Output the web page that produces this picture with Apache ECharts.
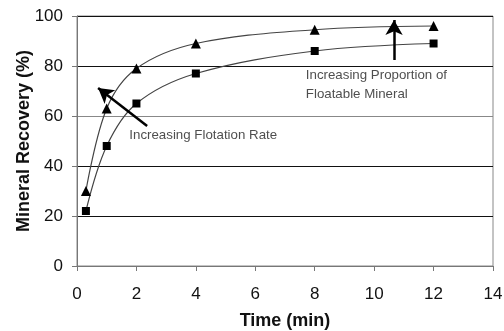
<!DOCTYPE html>
<html>
<head>
<meta charset="utf-8">
<script src="https://cdn.jsdelivr.net/npm/echarts@6/dist/echarts.min.js"></script>
<style>
  html, body { margin: 0; padding: 0; background: #fff; }
  #chart { width: 504px; height: 331px; }
</style>
</head>
<body>
<div id="chart"></div>
<script>
// time (min) and recovery (%)
var timeFast = [0.3, 1, 2, 4, 8, 12];
var recoveryFast = [30, 63, 79, 89, 94.5, 96];
var timeSlow = [0.3, 1, 2, 4, 8, 12];
var recoverySlow = [22, 48, 65, 77, 86, 89];

// annotation arrows, in data units: [from, to]
var rateArrow = [[2.36, 56], [0.71, 71.2]];
var proportionArrow = [[10.67, 82.4], [10.67, 98.4]];
var rateLabel = [1.76, 52.4];
var proportionLabel = [7.7, 72.3];

function pairs(xs, ys) {
    var out = [];
    for (var i = 0; i < xs.length; ++i) {
        out.push([xs[i], ys[i]]);
    }
    return out;
}

var font = 'Liberation Sans, Arial, sans-serif';
var chart = echarts.init(document.getElementById('chart'));

chart.setOption({
    animation: false,
    textStyle: { fontFamily: font },
    grid: {
        left: 77, right: 11, top: 16, bottom: 65,
        outerBoundsMode: 'none',
        show: true, borderColor: '#888', borderWidth: 1
    },
    xAxis: {
        type: 'value', min: 0, max: 14, interval: 2,
        name: 'Time (min)', nameLocation: 'middle', nameGap: 46,
        nameMoveOverlap: false,
        nameTextStyle: { fontSize: 18, fontWeight: 'bold', color: '#111', fontFamily: font },
        axisLine: { lineStyle: { color: '#777' } },
        axisTick: { show: true, length: 5, lineStyle: { color: '#777' } },
        axisLabel: { fontSize: 17, color: '#111', margin: 20 },
        splitLine: { show: false }
    },
    yAxis: {
        type: 'value', min: 0, max: 100, interval: 20,
        name: 'Mineral Recovery (%)', nameLocation: 'middle', nameGap: 44,
        nameMoveOverlap: false,
        nameTextStyle: { fontSize: 18, fontWeight: 'bold', color: '#111', fontFamily: font },
        axisLine: { show: true, lineStyle: { color: '#777' } },
        axisTick: { show: true, length: 5, lineStyle: { color: '#777' } },
        axisLabel: { fontSize: 17, color: '#111', margin: 14 },
        splitLine: {
            show: true,
            lineStyle: { color: ['#888', '#111', '#111', '#888', '#111', '#111'], width: 1 }
        }
    },
    series: [
        {
            type: 'line', smooth: 0.35,
            data: pairs(timeFast, recoveryFast),
            symbol: 'triangle', symbolSize: 10,
            itemStyle: { color: '#000' },
            lineStyle: { color: '#444', width: 1.2 },
            markLine: {
                silent: true, symbol: ['none', 'arrow'], symbolSize: [13, 15],
                lineStyle: { color: '#000', width: 2.5, type: 'solid' },
                label: { show: false },
                data: [
                    [{ coord: rateArrow[0] }, { coord: rateArrow[1] }],
                    [{ coord: proportionArrow[0] }, { coord: proportionArrow[1] }]
                ]
            },
            z: 3
        },
        {
            type: 'line', smooth: 0.35,
            data: pairs(timeSlow, recoverySlow),
            symbol: 'rect', symbolSize: 8,
            itemStyle: { color: '#000' },
            lineStyle: { color: '#444', width: 1.2 },
            z: 3
        },
        {
            type: 'scatter', symbolSize: 0, silent: true,
            data: [
                { value: rateLabel, label: { formatter: 'Increasing Flotation Rate' } },
                { value: proportionLabel, label: { formatter: 'Increasing Proportion of\nFloatable Mineral' } }
            ],
            label: {
                show: true, position: 'right', distance: 0,
                fontSize: 13.3, color: '#222', lineHeight: 19, fontFamily: font
            }
        }
    ]
});
</script>
</body>
</html>
